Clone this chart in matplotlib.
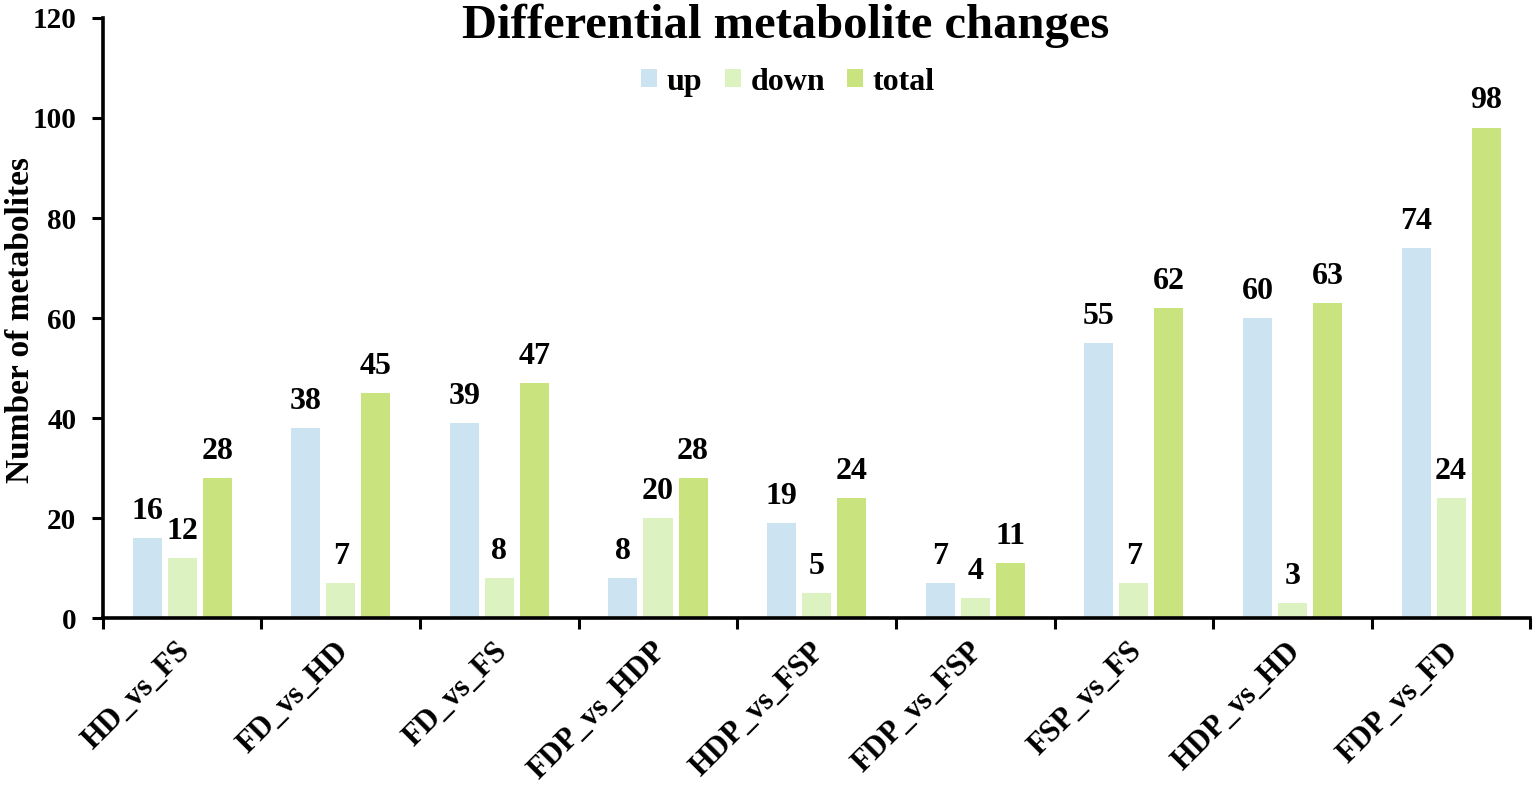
import matplotlib
matplotlib.use("Agg")
import matplotlib.pyplot as plt
import matplotlib.transforms as mtransforms
import numpy as np
from matplotlib.ticker import FixedLocator

categories = ["HD_vs_FS", "FD_vs_HD", "FD_vs_FS", "FDP_vs_HDP", "HDP_vs_FSP",
              "FDP_vs_FSP", "FSP_vs_FS", "HDP_vs_HD", "FDP_vs_FD"]
up = [16, 38, 39, 8, 19, 7, 55, 60, 74]
down = [12, 7, 8, 20, 5, 4, 7, 3, 24]
total = [28, 45, 47, 28, 24, 11, 62, 63, 98]
series_names = ["up", "down", "total"]
colors = ["#CCE4F2", "#DCF2C0", "#C9E37E"]

plt.rcParams['font.family'] = ['Liberation Serif', 'DejaVu Serif']
plt.rcParams['font.weight'] = 'bold'

fig = plt.figure(figsize=(15.35, 7.89), dpi=100)
ax = fig.add_axes([0.067, 0.2167, 0.93, 0.7605])

x = np.arange(len(categories))
w = 0.183
off = 0.221
for i, (vals, name, c) in enumerate(zip([up, down, total], series_names, colors)):
    bars = ax.bar(x + (i - 1) * off, vals, width=w, color=c, label=name, zorder=2)
    for b, v in zip(bars, vals):
        ax.annotate(str(v), (b.get_x() + b.get_width() / 2, b.get_height()),
                    xytext=(0, 9), textcoords='offset points',
                    ha='center', va='bottom', fontsize=23, fontweight='bold')

ax.set_xlim(-0.5, len(categories) - 0.5)
ax.set_ylim(0, 120)
ax.set_yticks(np.arange(0, 121, 20))
ax.tick_params(axis='y', labelsize=21, width=2.2, length=8, direction='out', pad=11)

# major ticks at category boundaries (outward), minor at centers (inward)
ax.xaxis.set_major_locator(FixedLocator(np.arange(-0.5, len(categories), 1.0)))
ax.xaxis.set_minor_locator(FixedLocator(x))
ax.tick_params(axis='x', which='major', width=2.2, length=8, direction='out', labelbottom=False)
ax.tick_params(axis='x', which='minor', width=2.2, length=5, direction='in')
ax.set_xticks(x, minor=True)
ax.set_xticklabels(categories, minor=True, rotation=45, ha='right', va='top',
                   rotation_mode='anchor', fontsize=22, fontweight='bold')
shift = mtransforms.ScaledTranslation(-0.07, 0.04, fig.dpi_scale_trans)
for lab in ax.get_xticklabels(minor=True):
    lab.set_y(-0.03)
    lab.set_transform(lab.get_transform() + shift)

for s in ['top', 'right']:
    ax.spines[s].set_visible(False)
for s in ['left', 'bottom']:
    ax.spines[s].set_linewidth(2.6)

ax.set_ylabel("Number of metabolites", fontsize=24, fontweight='bold')
ax.yaxis.set_label_coords(-0.047, 0.497)

fig.text(0.512, 0.952, "Differential metabolite changes", ha='center', va='baseline',
         fontsize=35, fontweight='bold')

leg = ax.legend(loc='center', bbox_to_anchor=(0.48, 0.893), ncol=3, frameon=False,
                fontsize=23, handlelength=0.5, handleheight=0.5, handletextpad=0.3,
                columnspacing=0.7, borderaxespad=0)

fig.savefig("out.png", dpi=100)
